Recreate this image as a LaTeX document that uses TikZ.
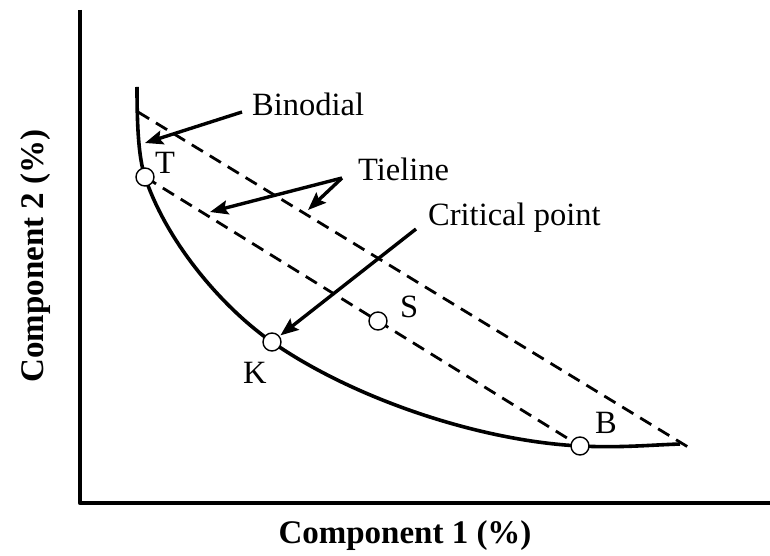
\documentclass[tikz,border=0pt]{standalone}
\usepackage{fontspec}
\setmainfont{Liberation Serif}
\usetikzlibrary{arrows.meta}
\tikzset{
  >={Stealth[length=18pt,width=14pt,inset=3pt]},
  axis/.style={line width=4.2pt, line join=round},
  binodal/.style={line width=3.6pt},
  tie/.style={line width=2.8pt, dash pattern=on 13pt off 8pt},
  pointer/.style={->, line width=3.4pt},
  pt/.style={draw, circle, fill=white, line width=1.4pt, minimum size=18pt, inner sep=0pt},
  lbl/.style={font=\fontsize{32.5}{38}\selectfont, inner sep=0pt, anchor=base west},
  axlbl/.style={font=\bfseries\fontsize{33}{38}\selectfont, inner sep=0pt, anchor=base},
}

\begin{document}
\begin{tikzpicture}[x=1pt, y=-1pt]
  \useasboundingbox (0,0) rectangle (770,556);
  % points on the binodal
  \coordinate (t) at (145,177);
  \coordinate (k) at (272,342);
  \coordinate (b) at (580,446);
  \coordinate (s) at (378,321);
  % ends of the upper tieline
  \coordinate (tiea) at (138,112);
  \coordinate (tieb) at (688,447);
  % arrow tips
  \coordinate (bintip) at (145,143);
  \coordinate (tietipa) at (210,212);
  \coordinate (tietipb) at (308,210);
  % axes
  \draw[axis] (80,10) -- (80,503) -- (770,503);
  \node[axlbl] (xlbl) at (405,543) {Component 1 (\%)};
  \node[axlbl, rotate=90] (ylbl) at (43,256) {Component 2 (\%)};
  % binodal curve and tielines
  \draw[binodal] (137,87) .. controls (137,130) and (139,159) .. (t)
    .. controls (167,243) and (223,308) .. (k)
    .. controls (354,399) and (480,441) .. (b)
    .. controls (620,448) and (650,445) .. (680,444);
  \draw[tie] (tiea) -- (tieb);
  \draw[tie] (t) -- (b);
  \node[pt] (T) at (t) {};
  \node[pt] (K) at (k) {};
  \node[pt] (B) at (b) {};
  \node[pt] (S) at (s) {};
  \node[lbl] (tname) at (155,173) {T};
  \node[lbl] (sname) at (400,317) {S};
  \node[lbl] (kname) at (243,383) {K};
  \node[lbl] (bname) at (595,433) {B};
  % labels with pointers
  \node[lbl] (binlbl) at (252,116) {Binodial};
  \node[lbl] (tielbl) at (358,180) {Tieline};
  \node[lbl] (critlbl) at (428,225) {Critical point};
  \draw[pointer] ([xshift=-10pt,yshift=4pt]binlbl.base west) -- (bintip);
  \draw[pointer] ([xshift=-16pt,yshift=2pt]tielbl.base west) -- (tietipa);
  \draw[pointer] ([xshift=-16pt,yshift=2pt]tielbl.base west) -- (tietipb);
  \draw[pointer, shorten >=1pt] ([xshift=-12pt,yshift=-4pt]critlbl.base west) -- (K);
\end{tikzpicture}
\end{document}
